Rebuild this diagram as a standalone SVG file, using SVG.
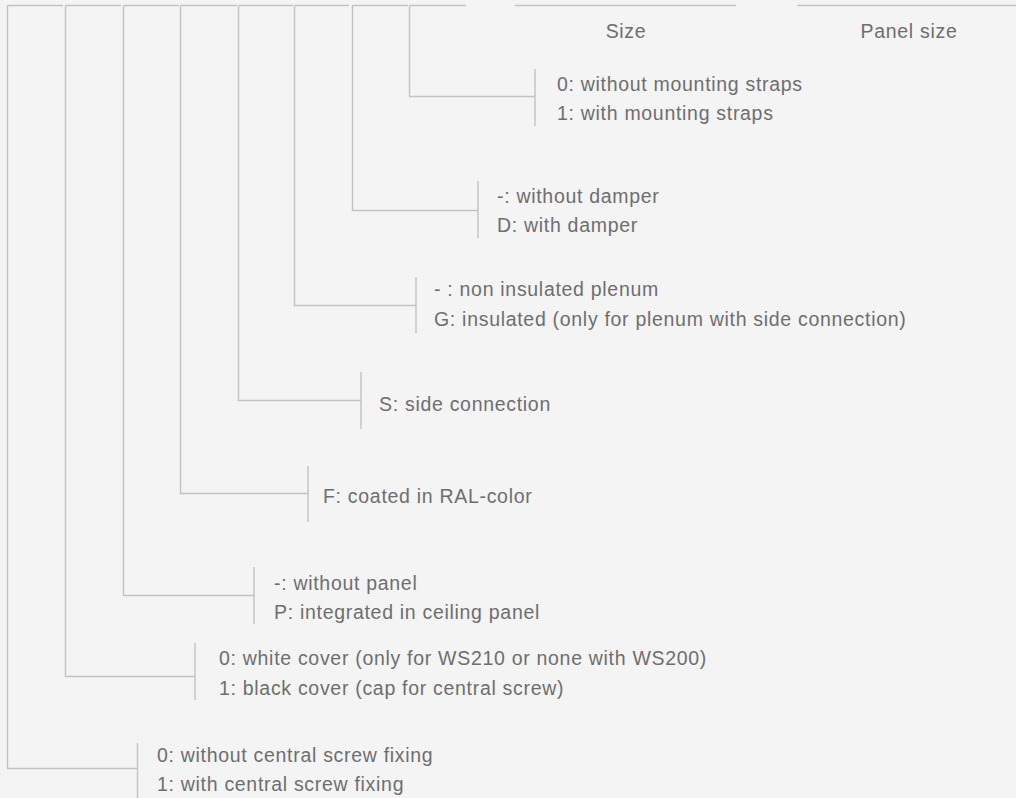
<svg xmlns="http://www.w3.org/2000/svg" width="1016" height="798" viewBox="0 0 1016 798">
<style>
.ln{fill:none;stroke:#c2c2c2;stroke-width:1.4}
.t{font-family:"Liberation Sans",Arial,sans-serif;font-size:19.5px;fill:#6e6e6e;letter-spacing:0.7px}
.h{text-anchor:middle}
</style>
<rect width="1016" height="798" fill="#f4f4f4"/>
<g id="connectors" class="ln">
<path d="M7.5,5.5H63 M65.5,5.5H121 M123.5,5.5H179 M180.5,5.5H237 M238.5,5.5H293 M294.5,5.5H349 M352.5,5.5H408 M409.5,5.5H466 M515,5.5H736 M797,5.5H1016"/>
<path d="M409.5,5.5V96.5H535"/>
<path d="M352.5,5.5V210.5H478"/>
<path d="M294.5,5.5V305.5H416"/>
<path d="M238.5,5.5V400.5H361"/>
<path d="M180.5,5.5V493.5H308"/>
<path d="M123.5,5.5V595.5H254"/>
<path d="M65.5,5.5V676.5H195"/>
<path d="M7.5,5.5V768.5H137.5"/>
</g>
<g id="header-size"><text class="t h" x="626" y="38">Size</text></g>
<g id="header-panel-size"><text class="t h" x="909" y="38">Panel size</text></g>
<g id="n-mounting">
<path class="ln" d="M535,69V126"/>
<text class="t" x="557" y="91">0: without mounting straps</text>
<text class="t" x="557" y="120">1: with mounting straps</text>
</g>
<g id="n-damper">
<path class="ln" d="M478,181V238"/>
<text class="t" x="497" y="203">-: without damper</text>
<text class="t" x="497" y="232">D: with damper</text>
</g>
<g id="n-plenum">
<path class="ln" d="M416,277V333"/>
<text class="t" x="434" y="296">- : non insulated plenum</text>
<text class="t" x="434" y="326">G: insulated (only for plenum with side connection)</text>
</g>
<g id="n-side">
<path class="ln" d="M361,372V429"/>
<text class="t" x="379" y="411">S: side connection</text>
</g>
<g id="n-ral">
<path class="ln" d="M308,466V522"/>
<text class="t" x="323" y="503">F: coated in RAL-color</text>
</g>
<g id="n-panel">
<path class="ln" d="M254,567V624"/>
<text class="t" x="274" y="590">-: without panel</text>
<text class="t" x="274" y="619">P: integrated in ceiling panel</text>
</g>
<g id="n-cover">
<path class="ln" d="M195,643V700"/>
<text class="t" x="219" y="665">0: white cover (only for WS210 or none with WS200)</text>
<text class="t" x="219" y="695">1: black cover (cap for central screw)</text>
</g>
<g id="n-screw">
<path class="ln" d="M137.5,743V798"/>
<text class="t" x="157" y="762">0: without central screw fixing</text>
<text class="t" x="157" y="791">1: with central screw fixing</text>
</g>
</svg>
